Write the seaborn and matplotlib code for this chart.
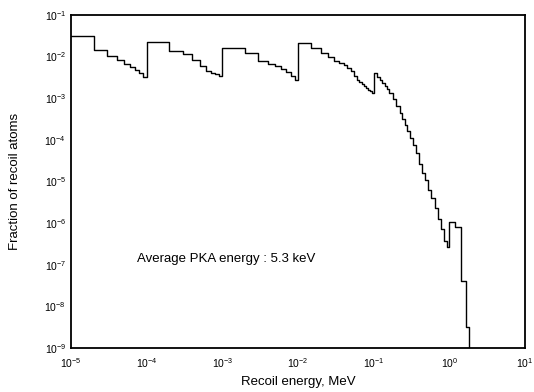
import pandas as pd
import seaborn as sns
import matplotlib.pyplot as plt
from matplotlib.ticker import LogLocator, NullLocator

# lower bin edges (MeV)
edges_m5 = [1e-5, 2e-5, 3e-5, 4e-5, 5e-5, 6e-5, 7e-5, 8e-5, 9e-5]
edges_m4 = [1e-4, 2e-4, 3e-4, 4e-4, 5e-4, 6e-4, 7e-4, 8e-4, 9e-4]
edges_m3 = [1e-3, 2e-3, 3e-3, 4e-3, 5e-3, 6e-3, 7e-3, 8e-3, 9e-3]
edges_m2 = [0.010, 0.015, 0.020, 0.025, 0.030, 0.035, 0.040, 0.045, 0.050,
            0.055, 0.060, 0.065, 0.070, 0.075, 0.080, 0.085, 0.090, 0.095]
edges_m1 = [0.10, 0.11, 0.12, 0.13, 0.14, 0.15, 0.16, 0.18, 0.20, 0.22, 0.24,
            0.26, 0.28, 0.30, 0.33, 0.36, 0.40, 0.44, 0.48, 0.53, 0.58, 0.64,
            0.70, 0.77, 0.85, 0.93]
edges_0 = [1.0, 1.2, 1.45, 1.65]
last_edge = 1.85

frac_m5 = [3.2e-2, 1.45e-2, 1.04e-2, 8.3e-3, 6.6e-3, 5.6e-3, 4.8e-3, 4.1e-3, 3.2e-3]
frac_m4 = [2.2e-2, 1.38e-2, 1.12e-2, 8.3e-3, 5.8e-3, 4.6e-3, 4.1e-3, 3.8e-3, 3.5e-3]
frac_m3 = [1.6e-2, 1.2e-2, 7.8e-3, 6.8e-3, 5.9e-3, 5.0e-3, 4.2e-3, 3.5e-3, 2.8e-3]
frac_m2 = [2.15e-2, 1.6e-2, 1.23e-2, 1.0e-2, 7.9e-3, 6.9e-3, 6.2e-3, 5.2e-3, 4.4e-3,
           3.5e-3, 2.75e-3, 2.45e-3, 2.2e-3, 1.95e-3, 1.8e-3, 1.6e-3, 1.5e-3, 1.35e-3]
frac_m1 = [4.1e-3, 3.2e-3, 2.75e-3, 2.35e-3, 2.0e-3, 1.66e-3, 1.32e-3, 9.5e-4, 6.6e-4,
           4.5e-4, 3.2e-4, 2.3e-4, 1.66e-4, 1.12e-4, 7.6e-5, 4.8e-5, 2.6e-5, 1.6e-5,
           1.07e-5, 6.3e-6, 4.0e-6, 2.35e-6, 1.26e-6, 7.1e-7, 3.8e-7, 2.7e-7]
frac_0 = [1.07e-6, 8.1e-7, 4.1e-8, 3.2e-9]

energy = edges_m5 + edges_m4 + edges_m3 + edges_m2 + edges_m1 + edges_0 + [last_edge]
fraction = frac_m5 + frac_m4 + frac_m3 + frac_m2 + frac_m1 + frac_0 + [1e-12]
df = pd.DataFrame({'energy': energy, 'fraction': fraction})

sns.set_style('white')
plt.rcParams['font.family'] = ['Liberation Sans', 'DejaVu Sans']
plt.rcParams['mathtext.fontset'] = 'custom'
plt.rcParams['mathtext.rm'] = 'Liberation Sans'
for k in ['text.color', 'axes.labelcolor', 'xtick.color', 'ytick.color']:
    plt.rcParams[k] = 'black'

fig = plt.figure(figsize=(5.34, 3.92), dpi=100)
ax = fig.add_axes([0.133, 0.112, 0.850, 0.850])
sns.lineplot(data=df, x='energy', y='fraction', drawstyle='steps-post',
             color='black', linewidth=1.0, ax=ax)
ax.set_xscale('log')
ax.set_yscale('log')
ax.set_xlim(1e-5, 1e1)
ax.set_ylim(1e-9, 1e-1)

ax.xaxis.set_major_locator(LogLocator(base=10, numticks=10))
ax.xaxis.set_minor_locator(NullLocator())
ax.yaxis.set_major_locator(LogLocator(base=10, numticks=12))
ax.yaxis.set_minor_locator(LogLocator(base=10, subs=range(2, 10), numticks=12))
ax.tick_params(axis='both', which='both', direction='in', colors='black',
               labelsize=7.5, top=False, right=False)
ax.tick_params(axis='both', which='major', length=4, width=1)
ax.tick_params(axis='y', which='minor', length=2.5, width=0.8)
ax.tick_params(axis='x', pad=6)

for s in ax.spines.values():
    s.set_color('black')
    s.set_linewidth(1.3)

ax.set_xlabel('Recoil energy, MeV', fontsize=9.5, labelpad=4)
ax.set_ylabel('Fraction of recoil atoms', fontsize=9.5, labelpad=17)
ax.text(7.4e-5, 1.35e-7, 'Average PKA energy : 5.3 keV', fontsize=9.5,
        va='center', ha='left')

plt.savefig('out.png', dpi=100)
